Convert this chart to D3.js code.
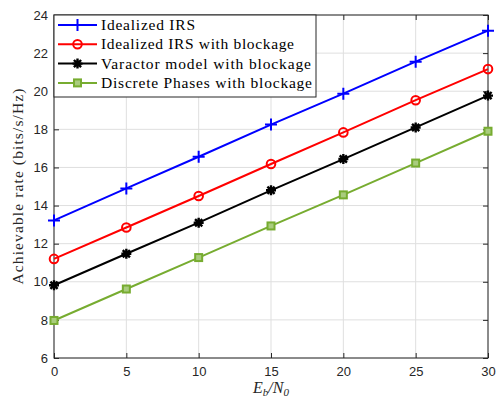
<!DOCTYPE html>
<html>
<head>
<meta charset="utf-8">
<script src="https://cdn.jsdelivr.net/npm/d3@7"></script>
<style>
  body { margin: 0; background: #fff; }
  .tick text { font-family: "Liberation Sans", Arial, sans-serif; font-size: 13px; fill: #262626; }
</style>
</head>
<body>
<div id="chart"></div>
<script>
// achievable rate vs Eb/N0, four configurations
var ebn0 = [0, 5, 10, 15, 20, 25, 30];
var idealIRS = [13.22, 14.9, 16.56, 18.25, 19.87, 21.55, 23.18];
var idealBlock = [11.2, 12.85, 14.5, 16.18, 17.84, 19.53, 21.16];
var varactorBlock = [9.82, 11.47, 13.1, 14.8, 16.44, 18.1, 19.77];
var discreteBlock = [7.97, 9.62, 11.27, 12.93, 14.56, 16.23, 17.9];
var xTicks = [0, 5, 10, 15, 20, 25, 30];
var yTicks = [6, 8, 10, 12, 14, 16, 18, 20, 22, 24];
var labels = ["Idealized IRS", "Idealized IRS with blockage",
              "Varactor model with blockage", "Discrete Phases with blockage"];
var labelWidths = [94, 193, 210, 211];

var series = [
  { name: labels[0], values: idealIRS, color: "#0000ff", marker: "plus" },
  { name: labels[1], values: idealBlock, color: "#ff0000", marker: "circle" },
  { name: labels[2], values: varactorBlock, color: "#000000", marker: "star" },
  { name: labels[3], values: discreteBlock, color: "#77ac30", marker: "square" }
];

var margin = { top: 15, left: 54, right: 9, bottom: 43 },
    width = 497 - margin.left - margin.right,
    height = 401 - margin.top - margin.bottom;

var svg = d3.select("#chart").append("svg")
    .attr("width", 497)
    .attr("height", 401);

var g = svg.append("g")
    .attr("transform", "translate(" + margin.left + "," + margin.top + ")");

var x = d3.scaleLinear().domain([0, 30]).range([0, width]);
var y = d3.scaleLinear().domain([6, 24]).range([height, 0]);

// grid
g.append("g").selectAll("line").data(xTicks).enter().append("line")
    .attr("x1", function(d) { return x(d); })
    .attr("x2", function(d) { return x(d); })
    .attr("y1", 0).attr("y2", height)
    .attr("stroke", "#dfdfdf").attr("stroke-width", 1);
g.append("g").selectAll("line").data(yTicks).enter().append("line")
    .attr("y1", function(d) { return y(d); })
    .attr("y2", function(d) { return y(d); })
    .attr("x1", 0).attr("x2", width)
    .attr("stroke", "#dfdfdf").attr("stroke-width", 1);

// axes, ticks inward
function styleAxis(sel) {
  sel.select(".domain").remove();
  sel.selectAll(".tick line").attr("stroke", "#262626");
}
g.append("g").attr("transform", "translate(0," + height + ")")
    .call(d3.axisBottom(x).tickValues(xTicks).tickSizeInner(-5).tickSizeOuter(0).tickPadding(9))
    .call(styleAxis);
g.append("g")
    .call(d3.axisLeft(y).tickValues(yTicks).tickSizeInner(-5).tickSizeOuter(0).tickPadding(6))
    .call(styleAxis);
g.append("g")
    .call(d3.axisTop(x).tickValues(xTicks).tickSizeInner(-5).tickSizeOuter(0).tickFormat(""))
    .call(styleAxis);
g.append("g").attr("transform", "translate(" + width + ",0)")
    .call(d3.axisRight(y).tickValues(yTicks).tickSizeInner(-5).tickSizeOuter(0).tickFormat(""))
    .call(styleAxis);

g.append("rect")
    .attr("width", width).attr("height", height)
    .attr("fill", "none").attr("stroke", "#262626").attr("stroke-width", 1);

// marker drawing
function drawMarker(sel, type, color) {
  if (type === "plus") {
    sel.append("path").attr("d", "M-6,0H6M0,-6V6")
      .attr("stroke", color).attr("stroke-width", 2).attr("fill", "none");
  } else if (type === "circle") {
    sel.append("circle").attr("r", 4.3)
      .attr("stroke", color).attr("stroke-width", 2).attr("fill", "none");
  } else if (type === "star") {
    sel.append("path").attr("d", "M-5,0H5M0,-5V5M-3.6,-3.6L3.6,3.6M-3.6,3.6L3.6,-3.6")
      .attr("stroke", color).attr("stroke-width", 2.4).attr("fill", "none");
    sel.append("circle").attr("r", 2.5).attr("fill", color);
  } else if (type === "square") {
    sel.append("rect").attr("x", -3.5).attr("y", -3.5).attr("width", 7).attr("height", 7)
      .attr("stroke", color).attr("stroke-width", 2).attr("fill", "#a9cc7e");
  }
}

var line = d3.line()
    .x(function(d, i) { return x(ebn0[i]); })
    .y(function(d) { return y(d); });

series.forEach(function(s) {
  g.append("path").datum(s.values)
    .attr("d", line)
    .attr("fill", "none")
    .attr("stroke", s.color)
    .attr("stroke-width", 2);
  g.selectAll(null).data(s.values).enter().append("g")
    .attr("transform", function(d, i) { return "translate(" + x(ebn0[i]) + "," + y(d) + ")"; })
    .each(function() { drawMarker(d3.select(this), s.marker, s.color); });
});

// legend
var legend = g.append("g");
legend.append("rect")
    .attr("x", 0).attr("y", 0).attr("width", 262).attr("height", 82)
    .attr("fill", "#fff").attr("stroke", "#262626").attr("stroke-width", 1);
series.forEach(function(s, i) {
  var ly = 10 + i * 19.3;
  legend.append("line")
    .attr("x1", 4).attr("x2", 43).attr("y1", ly).attr("y2", ly)
    .attr("stroke", s.color).attr("stroke-width", 2);
  var m = legend.append("g").attr("transform", "translate(23.5," + ly + ")");
  drawMarker(m, s.marker, s.color);
  legend.append("text")
    .attr("x", 47).attr("y", ly + 5)
    .attr("font-family", "'Liberation Serif', serif")
    .attr("font-size", "15.5px")
    .attr("fill", "#000")
    .attr("textLength", labelWidths[i])
    .attr("lengthAdjust", "spacing")
    .text(s.name);
});

// axis labels
svg.append("text")
    .attr("x", margin.left + width / 2).attr("y", 393)
    .attr("text-anchor", "middle")
    .attr("font-family", "'Liberation Serif', serif")
    .attr("font-size", "16px")
    .attr("font-style", "italic")
    .attr("fill", "#262626")
    .html("E<tspan font-size='11px' dy='3'>b</tspan><tspan dy='-3'>/N</tspan><tspan font-size='11px' dy='3'>0</tspan>");

svg.append("text")
    .attr("transform", "translate(23," + (margin.top + height / 2) + ") rotate(-90)")
    .attr("text-anchor", "middle")
    .attr("font-family", "'Liberation Serif', serif")
    .attr("font-size", "15.5px")
    .attr("fill", "#262626")
    .attr("textLength", 196)
    .attr("lengthAdjust", "spacing")
    .text("Achievable rate (bits/s/Hz)");
</script>
</body>
</html>
